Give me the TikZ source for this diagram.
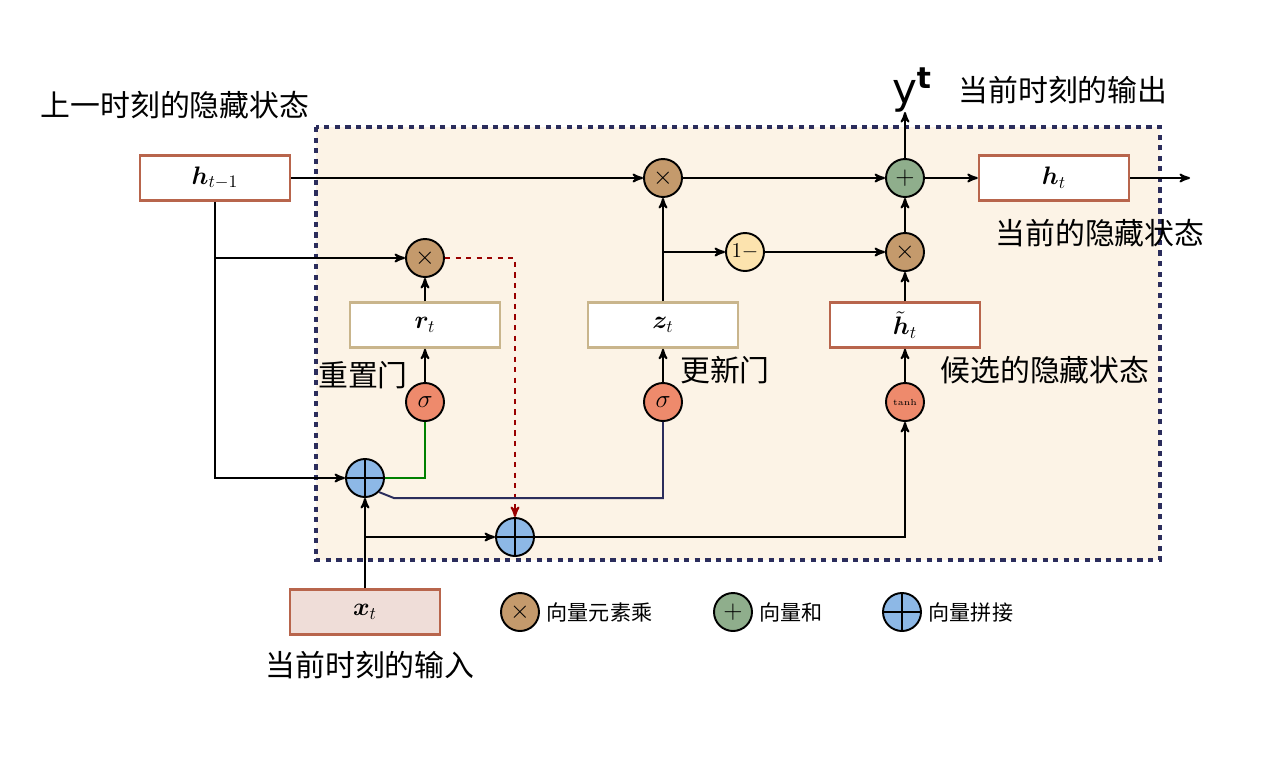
\documentclass[tikz,border=0pt]{standalone}
\usepackage{amsmath,amssymb,bm}
\usepackage{fontspec}
\newfontfamily\cjk{Noto Sans CJK SC}
\setsansfont{DejaVu Sans}
\usetikzlibrary{arrows}
\definecolor{boxred}{HTML}{B8654C}
\definecolor{boxtan}{HTML}{C9B58C}
\definecolor{mulfill}{HTML}{C49A6C}
\definecolor{addfill}{HTML}{8FAE8C}
\definecolor{catfill}{HTML}{8DB8E6}
\definecolor{sigfill}{HTML}{EE8A6C}
\definecolor{onefill}{HTML}{FCE3AE}
\definecolor{bgfill}{HTML}{FCF3E6}
\definecolor{navy}{HTML}{2B2D5C}
\begin{document}
\begin{tikzpicture}[x=0.02cm,y=-0.02cm,>=stealth',line width=1.1pt,
  op node/.style={circle,draw,minimum size=0.76cm,inner sep=0pt},
  mul node/.style={op node,fill=mulfill,font=\Large},
  cat node/.style={op node,fill=catfill,path picture={
     \draw[line width=1.6pt] (path picture bounding box.north) -- (path picture bounding box.south)
       (path picture bounding box.west) -- (path picture bounding box.east);}},
  sig node/.style={op node,fill=sigfill,font=\Large},
  state box/.style={draw=boxred,line width=1.4pt,fill=white,minimum width=3cm,minimum height=0.9cm,font=\Large},
  gate box/.style={draw=boxtan,line width=1.4pt,fill=white,minimum width=3cm,minimum height=0.9cm,font=\Large},
  label/.style={font=\cjk\fontsize{17}{20}\selectfont},
  legend/.style={font=\cjk\fontsize{12}{14}\selectfont,anchor=west}]
  \useasboundingbox (0,0) rectangle (1279,762);
  \draw[navy,dashed,line width=2pt,fill=bgfill] (316,127) rectangle (1160,560);

  \node[state box] (hprev) at (215,178) {$\bm{h}_{t-1}$};
  \node[mul node] (mtop) at (663,178) {$\times$};
  \node[op node,fill=addfill,font=\Large] (add) at (905,178) {$+$};
  \node[state box] (hcur) at (1054,178) {$\bm{h}_t$};
  \coordinate (out) at (1190,178);
  \coordinate (yout) at (905,112);

  \node[mul node] (mr) at (425,258) {$\times$};
  \node[gate box] (r) at (425,325) {$\bm{r}_t$};
  \node[sig node] (sr) at (425,402) {$\sigma$};

  \node[gate box] (z) at (663,325) {$\bm{z}_t$};
  \node[sig node] (sz) at (663,402) {$\sigma$};
  \node[op node,fill=onefill,font=\large] (one) at (745,252) {$1-$};
  \node[mul node] (mh) at (905,252) {$\times$};
  \node[state box] (ht) at (905,325) {$\tilde{\bm{h}}_t$};
  \node[sig node,font=\tiny] (th) at (905,402) {tanh};

  \node[cat node] (c1) at (365,478) {};
  \node[cat node] (c2) at (515,537) {};
  \node[state box,fill=boxred!22] (x) at (365,612) {$\bm{x}_t$};

  % labels
  \node[label] at (175,105) {上一时刻的隐藏状态};
  \node[font=\sffamily\fontsize{24}{26}\selectfont] at (912,90) {y\textsuperscript{\bfseries t}};
  \node[label] at (1063,90) {当前时刻的输出};
  \node[label] at (1100,233) {当前的隐藏状态};
  \node[label] at (363,375) {重置门};
  \node[label] at (725,370) {更新门};
  \node[label] at (1045,370) {候选的隐藏状态};
  \node[label] at (370,665) {当前时刻的输入};

  % legend
  \node[mul node] (lm) at (520,612) {$\times$};
  \node[legend] at (lm.east) {向量元素乘};
  \node[op node,fill=addfill,font=\Large] (la) at (733,612) {$+$};
  \node[legend] at (la.east) {向量和};
  \node[cat node] (lc) at (902,612) {};
  \node[legend] at (lc.east) {向量拼接};

  % connectors
  \draw[->] (hprev) -- (mtop);
  \draw[->] (mtop) -- (add);
  \draw[->] (add) -- (hcur);
  \draw[->] (hcur) -- (out);
  \draw[->] (add) -- (yout);
  \draw[->] (hprev.south) |- (c1);
  \draw[->] (hprev.south |- mr) -- (mr);
  \draw[->,dashed,red!60!black] (mr) -| (c2);
  \draw[->] (r) -- (mr);
  \draw[->] (sr) -- (r);
  \draw[green!50!black] (c1.east) -| (sr);
  \draw[navy] (c1.south east) -- ++(15,6) -| (sz);
  \draw[->] (sz) -- (z);
  \draw[->] (z) -- (mtop);
  \draw[->] (z.north |- one) -- (one);
  \draw[->] (one) -- (mh);
  \draw[->] (mh) -- (add);
  \draw[->] (ht) -- (mh);
  \draw[->] (th) -- (ht);
  \draw[->] (x) -- (c1);
  \draw[->] (x.north |- c2) -- (c2);
  \draw[->] (c2) -| (th);
\end{tikzpicture}
\end{document}
